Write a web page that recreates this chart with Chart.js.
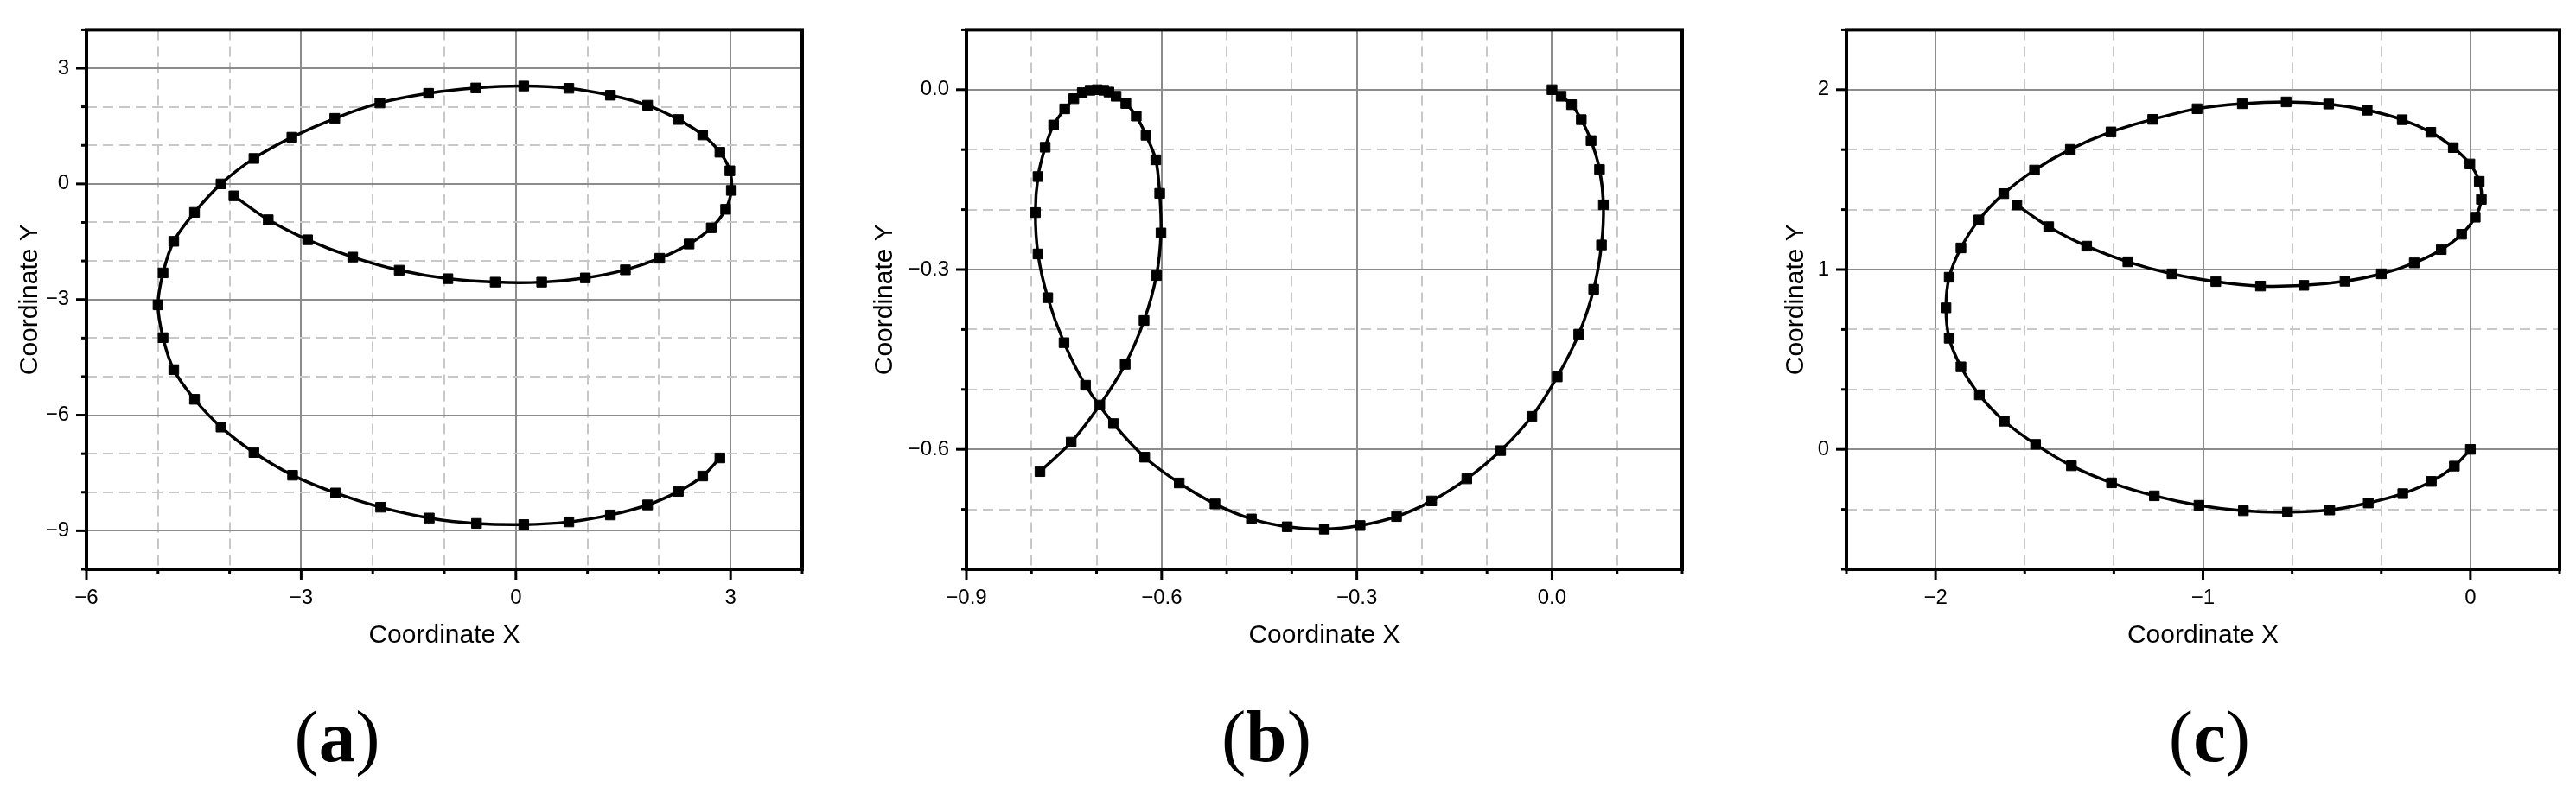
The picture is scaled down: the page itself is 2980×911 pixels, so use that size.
<!DOCTYPE html>
<html>
<head>
<meta charset="utf-8">
<script src="https://cdn.jsdelivr.net/npm/chart.js@4.4.1/dist/chart.umd.min.js"></script>
<style>
    html, body { margin: 0; padding: 0; background: #fff; }
    body { width: 2980px; height: 911px; position: relative; overflow: hidden; }
    canvas { position: absolute; top: 0; }
    .tag {
        position: absolute;
        top: 810px;
        font-family: 'Liberation Serif', 'Times New Roman', serif;
        font-size: 85px;
        line-height: 1;
        color: #000;
        transform: translateX(-50%);
        white-space: nowrap;
    }
</style>
</head>
<body>
<canvas id="chartA" width="968" height="780" style="left:0px"></canvas>
<canvas id="chartB" width="1008" height="780" style="left:978px"></canvas>
<canvas id="chartC" width="964" height="780" style="left:2016px"></canvas>
<div class="tag" style="left:390px">(<b>a</b>)</div>
<div class="tag" style="left:1465px">(<b>b</b>)</div>
<div class="tag" style="left:2556px">(<b>c</b>)</div>

<script>
// Panel (a)
const aX = [2.85, 2.61, 2.27, 1.84, 1.32, 0.74, 0.11, -0.55, -1.21, -1.89, -2.52, -3.12, -3.66, -4.12, -4.49, -4.78, -4.93, -5.00, -4.93, -4.78, -4.49, -4.12, -3.66, -3.13, -2.53, -1.90, -1.22, -0.56, 0.11, 0.74, 1.32, 1.84, 2.27, 2.61, 2.85, 2.99, 3.01, 2.93, 2.73, 2.42, 2.01, 1.53, 0.97, 0.36, -0.29, -0.95, -1.63, -2.28, -2.91, -3.46, -3.94];
const aY = [-7.11, -7.58, -7.98, -8.33, -8.59, -8.77, -8.84, -8.81, -8.67, -8.39, -8.02, -7.56, -6.97, -6.31, -5.59, -4.82, -3.99, -3.14, -2.31, -1.49, -0.74, 0.00, 0.66, 1.21, 1.70, 2.10, 2.35, 2.49, 2.54, 2.48, 2.30, 2.04, 1.67, 1.27, 0.82, 0.34, -0.17, -0.66, -1.14, -1.56, -1.93, -2.23, -2.44, -2.55, -2.55, -2.46, -2.24, -1.90, -1.45, -0.93, -0.31];
const aXMajor = [-6, -3, 0, 3];
const aYMajor = [-9, -6, -3, 0, 3];

// Panel (b)
const bX = [0.000, 0.014, 0.030, 0.045, 0.060, 0.073, 0.079, 0.076, 0.064, 0.041, 0.008, -0.031, -0.079, -0.131, -0.185, -0.239, -0.295, -0.350, -0.407, -0.462, -0.518, -0.573, -0.626, -0.674, -0.717, -0.750, -0.775, -0.790, -0.794, -0.790, -0.779, -0.766, -0.749, -0.735, -0.722, -0.710, -0.699, -0.689, -0.681, -0.670, -0.655, -0.639, -0.624, -0.609, -0.603, -0.601, -0.608, -0.627, -0.656, -0.695, -0.739, -0.787];
const bY = [0.000, -0.011, -0.025, -0.050, -0.085, -0.133, -0.192, -0.259, -0.333, -0.408, -0.479, -0.545, -0.602, -0.649, -0.686, -0.712, -0.727, -0.733, -0.729, -0.716, -0.691, -0.656, -0.613, -0.557, -0.493, -0.422, -0.347, -0.274, -0.205, -0.145, -0.096, -0.059, -0.032, -0.015, -0.005, -0.001, 0.000, -0.001, -0.004, -0.011, -0.023, -0.044, -0.076, -0.117, -0.173, -0.239, -0.310, -0.385, -0.458, -0.526, -0.588, -0.637];
const bXMajor = [-0.9, -0.6, -0.3, 0.0];
const bYMajor = [-0.6, -0.3, 0.0];

// Panel (c)
const cX = [0, -0.060, -0.146, -0.253, -0.382, -0.526, -0.684, -0.849, -1.015, -1.182, -1.342, -1.492, -1.626, -1.743, -1.836, -1.905, -1.949, -1.961, -1.949, -1.905, -1.838, -1.745, -1.630, -1.496, -1.344, -1.188, -1.022, -0.853, -0.689, -0.530, -0.386, -0.255, -0.148, -0.064, -0.002, 0.033, 0.041, 0.018, -0.033, -0.109, -0.210, -0.333, -0.469, -0.623, -0.785, -0.952, -1.116, -1.281, -1.435, -1.577, -1.696];
const cY = [0, -0.093, -0.178, -0.246, -0.298, -0.337, -0.349, -0.341, -0.311, -0.258, -0.186, -0.091, 0.028, 0.157, 0.303, 0.459, 0.618, 0.787, 0.957, 1.120, 1.276, 1.422, 1.553, 1.668, 1.765, 1.835, 1.894, 1.922, 1.932, 1.920, 1.886, 1.833, 1.763, 1.678, 1.587, 1.490, 1.390, 1.291, 1.196, 1.111, 1.037, 0.976, 0.935, 0.912, 0.908, 0.933, 0.976, 1.043, 1.130, 1.238, 1.359];
const cXMajor = [-2, -1, 0];
const cYMajor = [0, 1, 2];

const FONT = "'Liberation Sans', Arial, sans-serif";
const MINUS = '\u2212';

function isMajor(v, majors) {
    return v !== undefined && majors.some(m => Math.abs(m - v) < 1e-6);
}

function tickValues(min, max, step) {
    const n = Math.round((max - min) / step);
    const out = [];
    for (let i = 0; i <= n; i++) out.push(min + i * step);
    return out;
}

function fmt(v, digits) {
    let s = Math.abs(v) < 1e-9 ? (0).toFixed(digits) : v.toFixed(digits);
    return s.replace('-', MINUS);
}

// Frame round the plot area plus outward tick marks (long for labelled ticks)
const frameAndTicks = {
    id: 'frameAndTicks',
    afterDraw(chart, args, opts) {
        const { ctx, chartArea: a, scales } = chart;
        ctx.save();
        ctx.strokeStyle = '#000';
        ctx.lineWidth = 3;
        scales.x.ticks.forEach(t => {
            const p = scales.x.getPixelForValue(t.value);
            const len = isMajor(t.value, opts.xMajor) ? 12 : 6;
            ctx.beginPath();
            ctx.moveTo(p, a.bottom);
            ctx.lineTo(p, a.bottom + len);
            ctx.stroke();
        });
        scales.y.ticks.forEach(t => {
            const p = scales.y.getPixelForValue(t.value);
            const len = isMajor(t.value, opts.yMajor) ? 12 : 6;
            ctx.beginPath();
            ctx.moveTo(a.left, p);
            ctx.lineTo(a.left - len, p);
            ctx.stroke();
        });
        ctx.lineWidth = 4;
        ctx.strokeRect(a.left, a.top, a.right - a.left, a.bottom - a.top);
        ctx.restore();
    }
};

function axis(cfg) {
    return {
        type: 'linear',
        position: cfg.position,
        min: cfg.min,
        max: cfg.max,
        afterBuildTicks: s => { s.ticks = tickValues(cfg.min, cfg.max, cfg.step).map(v => ({ value: v })); },
        afterFit: s => {
            if (cfg.position === 'left') s.width = cfg.size;
            else s.height = cfg.size;
        },
        grid: {
            color: c => isMajor(c.tick && c.tick.value, cfg.majors) ? '#8c8c8c' : '#c8c8c8',
            lineWidth: 2,
            drawTicks: false
        },
        border: {
            display: false,
            dash: c => (c.tick && !isMajor(c.tick.value, cfg.majors)) ? [12, 7] : []
        },
        ticks: {
            autoSkip: false,
            maxRotation: 0,
            padding: cfg.position === 'left' ? 20 : 19,
            color: '#000',
            font: { family: FONT, size: 24 },
            callback: v => isMajor(v, cfg.majors) ? fmt(v, cfg.digits) : ''
        },
        title: {
            display: true,
            text: cfg.title,
            color: '#000',
            font: { family: FONT, size: 30 },
            padding: cfg.position === 'left' ? { top: cfg.titlePad, bottom: 0 } : { top: 0, bottom: cfg.titlePad }
        }
    };
}

function makePanel(id, xs, ys, p) {
    const points = xs.map((x, i) => ({ x: x, y: ys[i] }));
    new Chart(document.getElementById(id), {
        type: 'scatter',
        data: {
            datasets: [{
                data: points,
                showLine: true,
                borderColor: '#000',
                borderWidth: 3.5,
                tension: 0.3,
                pointStyle: 'rect',
                pointRadius: 8,
                pointHoverRadius: 8,
                pointBackgroundColor: '#000',
                pointBorderColor: '#000',
                pointBorderWidth: 1
            }]
        },
        options: {
            responsive: false,
            animation: false,
            layout: { padding: { left: 0, top: 25, right: p.padRight, bottom: 0 } },
            plugins: {
                legend: { display: false },
                tooltip: { enabled: false },
                frameAndTicks: { xMajor: p.x.majors, yMajor: p.y.majors }
            },
            scales: {
                x: axis(Object.assign({ position: 'bottom', size: 121, title: 'Coordinate X', titlePad: 26 }, p.x)),
                y: axis(Object.assign({ position: 'left', title: 'Coordinate Y' }, p.y))
            }
        },
        plugins: [frameAndTicks]
    });
}

makePanel('chartA', aX, aY, {
    padRight: 40,
    x: { min: -6, max: 4, step: 1, majors: aXMajor, digits: 0 },
    y: { min: -10, max: 4, step: 1, majors: aYMajor, digits: 0, size: 100, titlePad: 17 }
});

makePanel('chartB', bX, bY, {
    padRight: 40,
    x: { min: -0.9, max: 0.2, step: 0.1, majors: bXMajor, digits: 1 },
    y: { min: -0.8, max: 0.1, step: 0.1, majors: bYMajor, digits: 1, size: 140, titlePad: 28 }
});

makePanel('chartC', cX, cY, {
    padRight: 16,
    x: { min: -7 / 3, max: 1 / 3, step: 1 / 3, majors: cXMajor, digits: 0 },
    y: { min: -2 / 3, max: 7 / 3, step: 1 / 3, majors: cYMajor, digits: 0, size: 120, titlePad: 44 }
});
</script>
</body>
</html>
